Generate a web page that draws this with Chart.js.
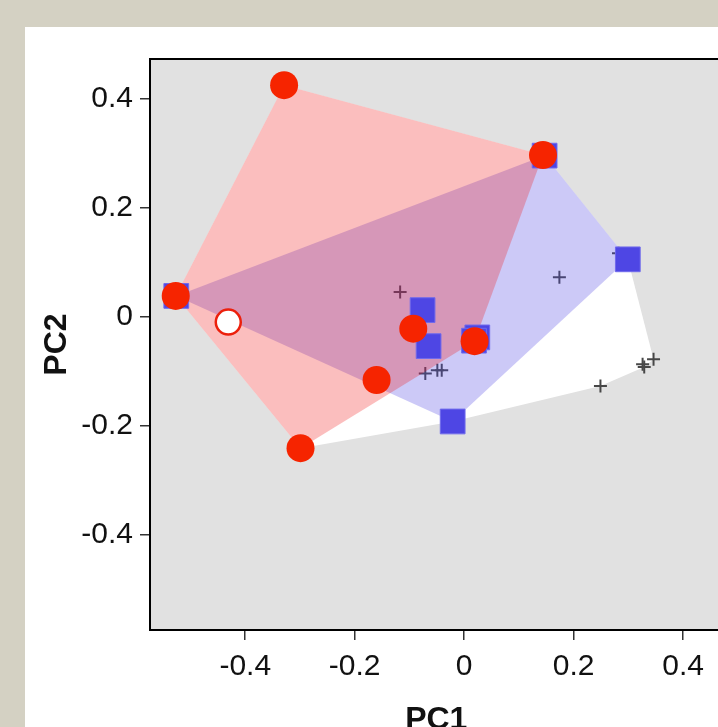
<!DOCTYPE html>
<html>
<head>
<meta charset="utf-8">
<script src="https://cdn.jsdelivr.net/npm/chart.js@4.4.0/dist/chart.umd.min.js"></script>
<style>
  html, body { margin: 0; padding: 0; overflow: hidden; background: #d4d1c3; width: 718px; height: 727px; }
  #panel { position: absolute; left: 25px; top: 27px; width: 716px; height: 740px; background: #fff; }
</style>
</head>
<body>
<div id="panel"><canvas id="pca" width="716" height="740"></canvas></div>
<script>
// group 1 - filled red circles
const redX = [-0.329, 0.144, -0.527, -0.299, -0.093, 0.019, -0.160]
const redY = [0.424, 0.296, 0.038, -0.241, -0.022, -0.045, -0.116]

// group 1 - the one open circle
const openX = [-0.431]
const openY = [-0.010]

// group 2 - blue squares
const blueX = [-0.526, 0.147, 0.299, -0.076, -0.065, 0.024, 0.018, -0.021]
const blueY = [0.038, 0.295, 0.105, 0.012, -0.054, -0.038, -0.044, -0.192]

// group 3 - crosses
const plusX = [-0.117, 0.174, -0.071, -0.049, -0.041, 0.249, 0.326, 0.329, 0.346, 0.282]
const plusY = [0.045, 0.072, -0.104, -0.098, -0.098, -0.127, -0.087, -0.092, -0.078, 0.116]

const tickValues = [-0.4, -0.2, 0, 0.2, 0.4]
const tickLabels = ['-0.4', '-0.2', '0', '0.2', '0.4']

const font = '"Liberation Sans", Arial, sans-serif'


function toPoints(xs, ys) {
    return xs.map((x, i) => ({ x, y: ys[i] }))
}

function convexHull(xs, ys) {
    const pts = xs.map((x, i) => [x, ys[i]]).sort((a, b) => a[0] - b[0] || a[1] - b[1])
    const cross = (o, a, b) => (a[0] - o[0]) * (b[1] - o[1]) - (a[1] - o[1]) * (b[0] - o[0])
    const lower = []
    const upper = []
    for (const p of pts) {
        while (lower.length >= 2 && cross(lower[lower.length - 2], lower[lower.length - 1], p) <= 0) lower.pop()
        lower.push(p)
    }
    for (const p of pts.slice().reverse()) {
        while (upper.length >= 2 && cross(upper[upper.length - 2], upper[upper.length - 1], p) <= 0) upper.pop()
        upper.push(p)
    }
    return lower.slice(0, -1).concat(upper.slice(0, -1))
}

function drawHull(chart, hull, color) {
    const { ctx, scales: { x, y } } = chart
    ctx.save()
    ctx.beginPath()
    hull.forEach(([px, py], i) => {
        const X = x.getPixelForValue(px)
        const Y = y.getPixelForValue(py)
        i ? ctx.lineTo(X, Y) : ctx.moveTo(X, Y)
    })
    ctx.closePath()
    ctx.fillStyle = color
    ctx.fill()
    ctx.restore()
}

const allHull = convexHull([...redX, ...openX, ...blueX, ...plusX], [...redY, ...openY, ...blueY, ...plusY])
const redHull = convexHull([...redX, ...openX], [...redY, ...openY])
const blueHull = convexHull(blueX, blueY)

const hullPlugin = {
    id: 'hulls',
    beforeDraw(chart) {
        const { ctx, chartArea: a } = chart
        ctx.save()
        ctx.fillStyle = '#e1e1e1'
        ctx.fillRect(a.left, a.top, a.right - a.left, a.bottom - a.top)
        ctx.restore()
    },
    beforeDatasetsDraw(chart) {
        drawHull(chart, allHull, '#ffffff')
    },
    afterDatasetDraw(chart, args) {
        // crosses sit under the coloured hulls, squares and circles above
        if (args.index === 3) {
            drawHull(chart, blueHull, 'rgba(78, 70, 228, 0.29)')
            drawHull(chart, redHull, 'rgba(240, 20, 20, 0.28)')
        }
    },
    afterDatasetsDraw(chart) {
        const { ctx, chartArea: a } = chart
        ctx.save()
        ctx.strokeStyle = '#000'
        ctx.lineWidth = 2
        ctx.strokeRect(a.left, a.top, a.right - a.left, a.bottom - a.top)
        ctx.restore()
    }
}

function tickLabel(v) {
    const i = tickValues.findIndex(t => Math.abs(t - v) < 1e-9)
    return i < 0 ? '' : tickLabels[i]
}

function axis(titleText, titlePadding, fit) {
    return {
        type: 'linear',
        min: -0.574,
        max: 0.472,
        afterBuildTicks: s => { s.ticks = tickValues.map(v => ({ value: v })) },
        afterFit: fit,
        grid: { drawOnChartArea: false, drawTicks: true, tickLength: 10, color: '#333', lineWidth: 1.5 },
        border: { display: false },
        ticks: {
            color: '#111',
            font: { family: font, size: 30 },
            autoSkip: false,
            maxRotation: 0,
            callback: v => tickLabel(v)
        },
        title: {
            display: true,
            text: titleText,
            color: '#111',
            font: { family: font, size: 32, weight: 'bold' },
            padding: titlePadding
        }
    }
}

const xAxis = axis('PC1', { top: 0, bottom: 28 }, s => { s.height = 137 })
xAxis.ticks.padding = 9
const yAxis = axis('PC2', { top: 13, bottom: 0 }, s => { s.width = 125 })
yAxis.ticks.padding = 7

const data = {
    datasets: [
        {
            data: toPoints(redX, redY),
            pointStyle: 'circle',
            pointRadius: 14,
            borderWidth: 0,
            backgroundColor: 'rgb(246, 36, 0)'
        },
        {
            data: toPoints(openX, openY),
            pointStyle: 'circle',
            pointRadius: 12.5,
            borderWidth: 2.5,
            borderColor: 'rgb(236, 32, 12)',
            backgroundColor: '#ffffff'
        },
        {
            data: toPoints(blueX, blueY),
            pointStyle: 'rect',
            pointRadius: 17.5,
            borderWidth: 1,
            borderColor: 'rgb(112, 106, 236)',
            backgroundColor: 'rgb(78, 70, 228)'
        },
        {
            data: toPoints(plusX, plusY),
            pointStyle: 'cross',
            pointRadius: 6.5,
            borderWidth: 2,
            borderColor: '#474747'
        }
    ]
}

const options = {
    responsive: false,
    animation: false,
    devicePixelRatio: 1,
    events: [],
    layout: { padding: { left: 0, top: 32, right: 0, bottom: 0 } },
    plugins: {
        legend: { display: false },
        tooltip: { enabled: false }
    },
    scales: { x: xAxis, y: yAxis }
}

new Chart('pca', { type: 'scatter', data, options, plugins: [hullPlugin] })
</script>
</body>
</html>
